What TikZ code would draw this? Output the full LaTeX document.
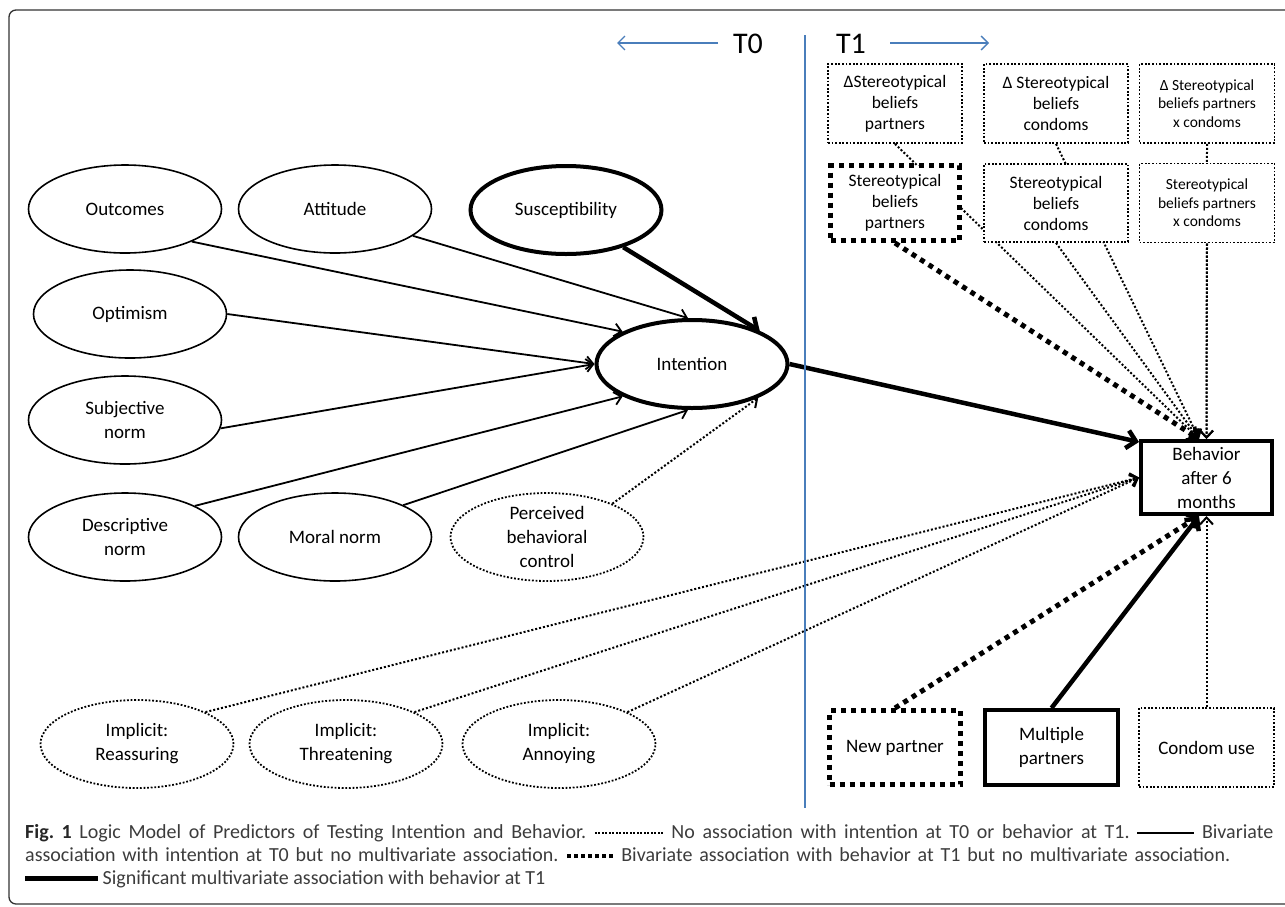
\documentclass[tikz,border=0pt]{standalone}
\usepackage{fontspec}
\setmainfont{Carlito}
\usetikzlibrary{arrows.meta,shapes.geometric,calc}
\pgfdeclarelayer{bg}
\pgfsetlayers{bg,main}
\definecolor{tblue}{HTML}{4A7EBB}
\definecolor{capgray}{HTML}{3C3C3C}
\newcommand\dotsample{\raise4.5pt\hbox{\leaders\hbox to 3.5pt{\hss\vrule width 2pt height 2pt depth 0pt\hss}\hskip70pt}}
\newcommand\sqsample{\raise3pt\hbox{\leaders\hbox to 7pt{\hss\vrule width 4.5pt height 4.5pt depth 0pt\hss}\hskip49pt}}
\newcommand\solsample{\raise4pt\hbox{\vrule width 57pt height 2pt depth 0pt}}
\newcommand\thicksample{\raise3pt\hbox{\vrule width 73pt height 5pt depth 0pt}}
\begin{document}
\begin{tikzpicture}[x=1pt,y=-1pt,
 every node/.style={inner sep=0pt, align=center},
 ell/.style={ellipse, draw, fill=white, line width=1.6pt, minimum width=193pt, minimum height=88pt, font=\fontsize{19}{24}\selectfont},
 ellthick/.style={ell, line width=4pt, minimum width=191pt, minimum height=88pt},
 elldot/.style={ell, line width=1.8pt, dash pattern=on 1.8pt off 1.8pt},
 bx/.style={rectangle, draw, fill=white, font=\fontsize{19}{24}\selectfont},
 bxdot/.style={bx, line width=1.8pt, dash pattern=on 1.8pt off 1.8pt},
 bxsq/.style={bx, line width=5pt, dash pattern=on 5pt off 5pt},
 bxthick/.style={bx, line width=4pt},
 smallfont/.style={font=\fontsize{17.5}{21}\selectfont},
 tinyfont/.style={font=\fontsize{15.5}{18.5}\selectfont},
 conn/.style={line width=1.8pt, -{Straight Barb[length=7pt,width=13pt]}},
 conndot/.style={conn, line width=2pt, dash pattern=on 2pt off 2pt},
 connsq/.style={line width=5pt, dash pattern=on 5pt off 5pt, -{Straight Barb[length=8pt,width=16pt,line width=3.5pt]}},
 connthick/.style={line width=4.5pt, -{Straight Barb[length=9pt,width=18pt]}},
 blueline/.style={draw=tblue, line width=1.3pt},
 bluearr/.style={blueline, -{Straight Barb[length=7pt,width=14pt]}},
 capnode/.style={anchor=base west, font=\fontsize{20}{23}\selectfont\frenchspacing, text=capgray, align=left},
]
\useasboundingbox (0,0) rectangle (1285,906);
\clip (0,0) rectangle (1285,906);
\draw[line width=1.3pt, rounded corners=7pt, draw=black!80] (9,10) rectangle (1320,904);

% header
\node[font=\fontsize{30}{36}\selectfont] (T0) at (748,44) {T0};
\node[font=\fontsize{30}{36}\selectfont] (T1) at (851,44) {T1};
\coordinate (la1) at (718,43);
\coordinate (la2) at (617,43);
\coordinate (ra1) at (890,43);
\coordinate (ra2) at (989,43);
\coordinate (vl1) at (805,35);
\coordinate (vl2) at (805,808);
\draw[bluearr] (la1) -- (la2);
\draw[bluearr] (ra1) -- (ra2);
\draw[blueline] (vl1) -- (vl2);

% ellipses
\node[ell] (O) at (125,209) {Outcomes};
\node[ell] (A) at (335,209) {Attitude};
\node[ellthick] (S) at (566,210) {Susceptibility};
\node[ell] (Op) at (130,314) {Optimism};
\node[ellthick] (I) at (692,364) {Intention};
\node[ell] (SN) at (125,420) {Subjective\\norm};
\node[ell] (DN) at (125,537) {Descriptive\\norm};
\node[ell] (MN) at (335,537) {Moral norm};
\node[elldot] (PBC) at (547,537) {Perceived\\behavioral\\control};
\node[elldot] (IR) at (137,744) {Implicit:\\Reassuring};
\node[elldot] (IT) at (346,744) {Implicit:\\Threatening};
\node[elldot] (IA) at (559,744) {Implicit:\\Annoying};

% boxes
\node[bxdot, smallfont, minimum width=134pt, minimum height=79pt] (dP) at (895,103.5) {ΔStereotypical\\beliefs\\partners};
\node[bxdot, smallfont, minimum width=144pt, minimum height=79pt] (dC) at (1056,103.5) {Δ Stereotypical\\beliefs\\condoms};
\node[bxdot, tinyfont, minimum width=135pt, minimum height=79pt] (dPC) at (1207,103.5) {Δ Stereotypical\\beliefs partners\\x condoms};
\node[bxsq, smallfont, minimum width=129pt, minimum height=75pt] (SP) at (895,203) {Stereotypical\\beliefs\\partners};
\node[bxdot, smallfont, minimum width=144pt, minimum height=78pt] (SC) at (1056,203) {Stereotypical\\beliefs\\condoms};
\node[bxdot, tinyfont, minimum width=135pt, minimum height=79pt] (SPC) at (1207,203) {Stereotypical\\beliefs partners\\x condoms};
\node[bxthick, minimum width=131pt, minimum height=73pt] (Beh) at (1206.5,477.5) {Behavior\\after 6\\months};
\node[bxsq, minimum width=131pt, minimum height=74pt] (NP) at (895,747.5) {New partner};
\node[bxthick, minimum width=133pt, minimum height=75pt] (MP) at (1051.5,747.5) {Multiple\\partners};
\node[bxdot, minimum width=135pt, minimum height=79pt] (CU) at (1206.5,747.5) {Condom use};

\coordinate (btop) at ($(Beh.north)+(-7.5,0)$);
\coordinate (bbot) at ($(Beh.south)+(-7.5,0)$);
\coordinate (bnw) at ($(Beh.north west)+(0,3)$);

\begin{pgfonlayer}{bg}
\draw[conn] (O.334.8) -- (I.155.4);
\draw[conn] (A.341.4) -- (I.95);
\draw[conn] (Op.east) -- (I.180);
\draw[conn] (SN.355) -- (I.180);
\draw[conn] (DN.24.9) -- (I.205.2);
\draw[conn] (MN.25.6) -- (I.265);
\draw[conndot] (PBC.27.6) -- (I.333.4);
\draw[connthick] (S.327.5) -- (I.26.2);
\draw[connthick] (I.east) -- (bnw);
\draw[conndot] (IR.25.6) -- (Beh.west);
\draw[conndot] (IT.25.6) -- (Beh.west);
\draw[conndot] (IA.25.9) -- (Beh.west);
\draw[conndot] (dP.south) -- (btop);
\draw[conndot] (dC.south) -- (btop);
\draw[conndot] (dPC.south) -- (Beh.north);
\draw[conndot] (SPC.south) -- (Beh.north);
\draw[conndot] (SC.south) -- (btop);
\draw[connsq] (SP.south) -- (btop);
\draw[connsq] (NP.north) -- (bbot);
\draw[connthick] (MP.north) -- (bbot);
\draw[conndot] (CU.north) -- (Beh.south);
\end{pgfonlayer}

% caption
\node[capnode] (cap1) at (25,838) {\makebox[1248pt][s]{{\bfseries\color{black!85}Fig. 1} Logic Model of Predictors of Testing Intention and Behavior. {\color{black}\dotsample} No association with intention at T0 or behavior at T1. {\color{black}\solsample} Bivariate}};
\node[capnode] (cap2) at (25,861) {\makebox[1205pt][s]{association with intention at T0 but no multivariate association. {\color{black}\sqsample} Bivariate association with behavior at T1 but no multivariate association.}};
\node[capnode] (cap3) at (25,884) {{\color{black}\thicksample} Significant multivariate association with behavior at T1};
\end{tikzpicture}
\end{document}
